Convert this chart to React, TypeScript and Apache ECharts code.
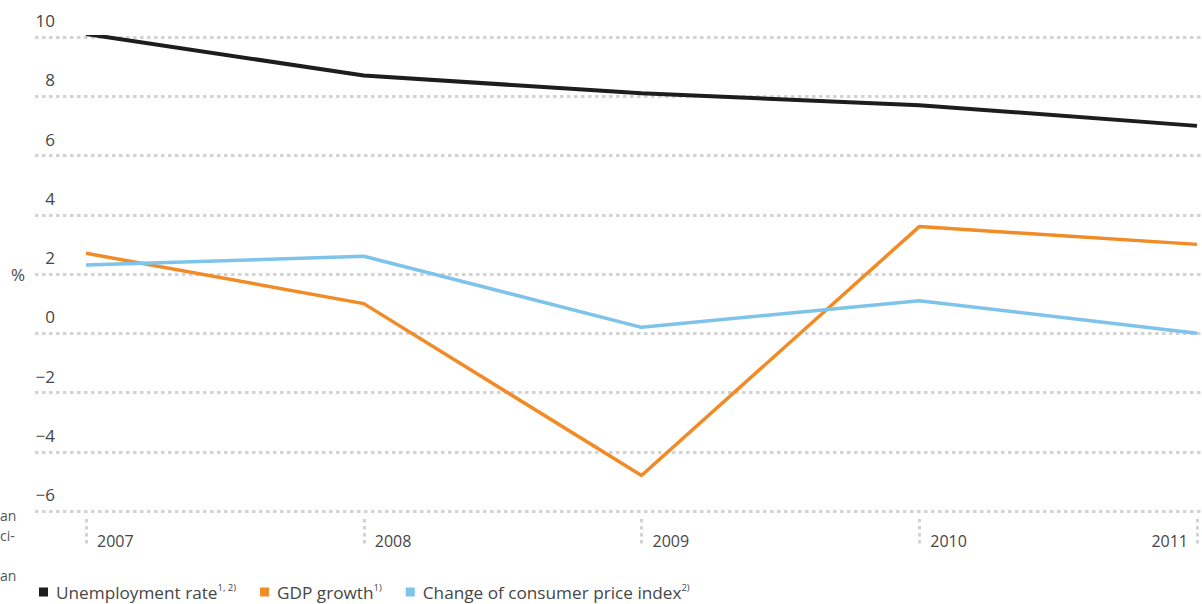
import React, { useEffect, useRef } from "react";
import * as echarts from "echarts";

const years = ["2007", "2008", "2009", "2010", "2011"];
const unemployment = [10.1, 8.7, 8.1, 7.7, 7.0];
const gdpGrowth = [2.7, 1.0, -4.8, 3.6, 3.0];
const cpiChange = [2.3, 2.6, 0.2, 1.1, 0.0];
const seriesNames = ["Unemployment rate", "GDP growth", "Change of consumer price index"];
const footnotes = ["1, 2)", "1)", "2)"];
const colors = ["#1d1d1b", "#f28a25", "#7ec3ea"];
const cutFragments = ["an", "ci-", "an"];

const FONT = "'Open Sans', 'Noto Sans', sans-serif";
const TEXT = "#464646";
const GRIDC = "#d3d3d3";

export default function App() {
  const ref = useRef<HTMLDivElement>(null);
  useEffect(() => {
    if (!ref.current) return;
    const chart = echarts.init(ref.current, undefined, { renderer: "svg" });
    const top = 37;
    const bottom = 93;
    chart.setOption({
      animation: false,
      textStyle: { fontFamily: FONT },
      grid: [
        { left: 35, right: 0, top, bottom, containLabel: false },
        { left: 86, right: 5, top, bottom, containLabel: false },
      ],
      legend: {
        left: 34,
        top: 577,
        icon: "rect",
        itemWidth: 9,
        itemHeight: 9,
        itemGap: 24,
        data: seriesNames,
        formatter: (name: string) => {
          const i = seriesNames.indexOf(name);
          return `{a|${name}}{s|${footnotes[i]}}`;
        },
        textStyle: {
          color: TEXT,
          fontFamily: FONT,
          rich: {
            a: { fontSize: 17.2, lineHeight: 20, color: TEXT, fontFamily: FONT, fontWeight: 400, padding: [0, 0, 0, 3] },
            s: { fontSize: 9.5, color: TEXT, fontFamily: FONT, fontWeight: 400, verticalAlign: "top", padding: [0, 0, 7, 0] },
          },
        },
      },
      xAxis: [
        { gridIndex: 0, type: "value", show: false, min: 0, max: 1 },
        {
          gridIndex: 1,
          type: "category",
          data: years,
          boundaryGap: false,
          position: "bottom",
          offset: 8,
          axisLine: { show: false, onZero: false },
          axisTick: {
            show: true,
            length: 28,
            lineStyle: { color: GRIDC, width: 3, type: [3.5, 3.5] },
          },
          axisLabel: {
            color: TEXT,
            fontSize: 16,
            fontWeight: 400,
            fontFamily: FONT,
            margin: -8,
            align: "left",
            alignMaxLabel: "right",
            verticalAlign: "top",
            padding: [22, 9, 0, 11],
          },
          splitLine: { show: false },
        },
      ],
      yAxis: [
        {
          gridIndex: 0,
          type: "value",
          min: -6,
          max: 10,
          interval: 2,
          name: "%",
          nameLocation: "middle",
          nameRotate: 0,
          nameGap: 10,
          nameTextStyle: { color: TEXT, fontSize: 17, fontWeight: 400, fontFamily: FONT, align: "right", verticalAlign: "middle" },
          axisLine: { show: false },
          axisTick: { show: false },
          axisLabel: {
            color: TEXT,
            fontSize: 17,
            fontWeight: 400,
            fontFamily: FONT,
            margin: -20,
            align: "right",
            verticalAlign: "bottom",
            padding: [0, 0, 8, 0],
            formatter: (v: number) => (v < 0 ? "\u2212" + Math.abs(v) : String(v)),
          },
          splitLine: { show: true, lineStyle: { color: GRIDC, width: 3, type: [3.5, 3.5] } },
        },
        {
          gridIndex: 1,
          type: "value",
          min: -6,
          max: 10,
          interval: 2,
          show: false,
          splitLine: { show: false },
        },
      ],
      graphic: cutFragments.map((t, i) => ({
        type: "text",
        left: 0,
        top: [508, 528, 568][i],
        style: { text: t, fill: "#555", font: `14px ${FONT}` },
        silent: true,
      })),
      series: [
        { name: seriesNames[0], data: unemployment, color: colors[0], lw: 4 },
        { name: seriesNames[1], data: gdpGrowth, color: colors[1], lw: 3.5 },
        { name: seriesNames[2], data: cpiChange, color: colors[2], lw: 3.5 },
      ].map((s) => ({
        type: "line",
        name: s.name,
        xAxisIndex: 1,
        yAxisIndex: 1,
        data: s.data,
        symbol: "none",
        color: s.color,
        lineStyle: { color: s.color, width: s.lw },
      })),
    });
    return () => chart.dispose();
  }, []);
  return (
    <div
      ref={ref}
      style={{ position: "fixed", left: 0, top: 0, width: 1202, height: 604, background: "#fff" }}
    />
  );
}
